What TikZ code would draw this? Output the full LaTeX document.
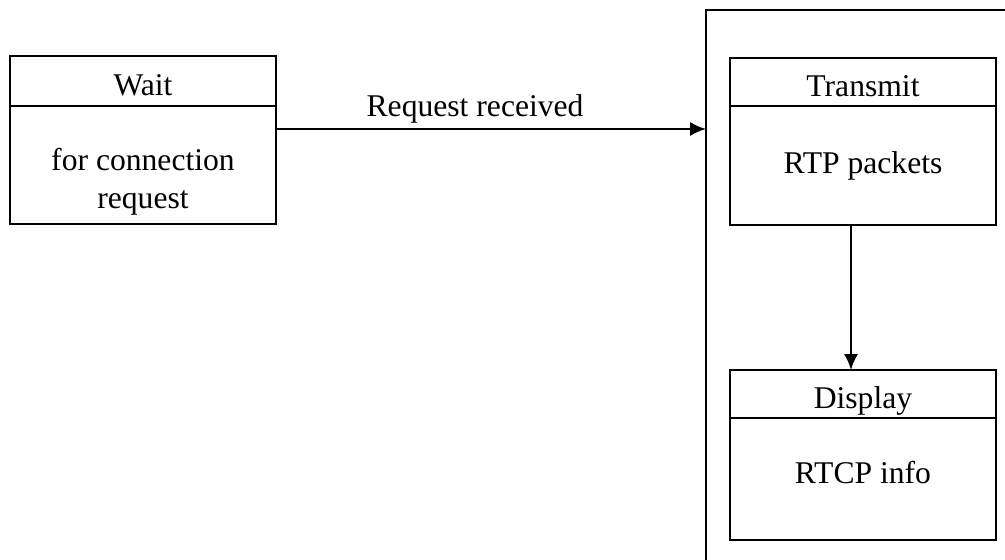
\documentclass[tikz,border=0pt]{standalone}
\usepackage{fontspec}
\setmainfont{Liberation Serif}
\usetikzlibrary{arrows.meta}
\begin{document}
\begin{tikzpicture}[x=0.02cm, y=-0.02cm, line width=1.3pt, outer sep=0pt, inner sep=1pt,
    font=\fontsize{18}{21.5}\selectfont,
    title/.style={draw, minimum width=5.32cm, minimum height=#1, text height=0.58cm, text depth=0pt},
    body/.style={draw, anchor=north, minimum width=5.32cm, minimum height=#1},
    bodytext/.style={align=center, yshift=#1},
    >={Latex[length=9pt,width=8pt]}]
    \useasboundingbox (0,0) rectangle (1005,560);
    % waiting state
    \node[title=1cm] (wait) at (143,81) {Wait};
    \node[body=2.36cm, label={[bodytext=-0.34cm]center:for connection\\request}] (waitb) at (wait.south) {};
    % frame of the running states
    \coordinate (frame) at (706,10);
    \coordinate (in) at (706,129);
    \draw (1005,10) -- (frame) -- (706,560);
    \node[title=0.96cm] (trans) at (863,82) {Transmit};
    \node[body=2.38cm, label={[bodytext=0cm]center:RTP packets}] (transb) at (trans.south) {};
    \node[title=0.96cm] (disp) at (863,394) {Display};
    \node[body=2.44cm, label={[bodytext=0.12cm]center:RTCP info}] (dispb) at (disp.south) {};

    \draw[->] (waitb.east |- in) -- (in) node[pos=.463, above=2pt] {Request received};
    \draw[->] ([xshift=-0.24cm]transb.south) -- ([xshift=-0.24cm]disp.north);
\end{tikzpicture}
\end{document}
